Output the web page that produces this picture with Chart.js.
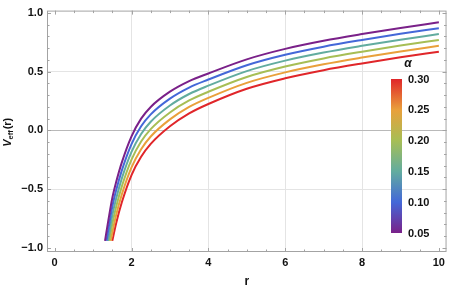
<!DOCTYPE html>
<html><head><meta charset="utf-8">
<script src="https://cdn.jsdelivr.net/npm/chart.js@4/dist/chart.umd.min.js"></script>
<style>html,body{margin:0;padding:0;background:#fff;}canvas{display:block;}</style>
</head><body>
<canvas id="c" width="449" height="289"></canvas>
<script>
// ---- data ----
const alphas = [0.05, 0.10, 0.15, 0.20, 0.25, 0.30];
const lineColors = ['#7A2189', '#4468D8', '#62AC9F', '#A7BE55', '#E9A03B', '#E0262A'];

const r_a005 = [1.31, 1.4, 1.5, 1.6, 1.75, 2.0, 2.25, 2.5, 3, 3.5, 4, 5, 6, 7, 8, 9, 10];
const v_a005 = [-0.94, -0.76, -0.575, -0.44, -0.27, -0.05, 0.10, 0.20, 0.33, 0.42, 0.485, 0.605, 0.694, 0.763, 0.82, 0.872, 0.92];

const r_a010 = [1.35, 1.4, 1.5, 1.6, 1.75, 2.0, 2.25, 2.5, 3, 3.5, 4, 5, 6, 7, 8, 9, 10];
const v_a010 = [-0.94, -0.838, -0.649, -0.51, -0.338, -0.116, 0.035, 0.137, 0.271, 0.365, 0.433, 0.555, 0.644, 0.713, 0.77, 0.822, 0.87];

const r_a015 = [1.387, 1.4, 1.5, 1.6, 1.75, 2.0, 2.25, 2.5, 3, 3.5, 4, 5, 6, 7, 8, 9, 10];
const v_a015 = [-0.94, -0.916, -0.723, -0.58, -0.406, -0.182, -0.03, 0.074, 0.212, 0.31, 0.381, 0.505, 0.594, 0.663, 0.72, 0.772, 0.82];

const r_a020 = [1.42, 1.5, 1.6, 1.75, 2.0, 2.25, 2.5, 3, 3.5, 4, 5, 6, 7, 8, 9, 10];
const v_a020 = [-0.94, -0.797, -0.65, -0.474, -0.248, -0.095, 0.011, 0.153, 0.255, 0.329, 0.455, 0.544, 0.613, 0.67, 0.722, 0.77];

const r_a025 = [1.46, 1.5, 1.6, 1.75, 2.0, 2.25, 2.5, 3, 3.5, 4, 5, 6, 7, 8, 9, 10];
const v_a025 = [-0.94, -0.871, -0.72, -0.542, -0.314, -0.16, -0.052, 0.094, 0.2, 0.277, 0.405, 0.494, 0.563, 0.62, 0.672, 0.72];

const r_a030 = [1.5, 1.6, 1.75, 2.0, 2.25, 2.5, 3, 3.5, 4, 5, 6, 7, 8, 9, 10];
const v_a030 = [-0.94, -0.79, -0.61, -0.38, -0.225, -0.115, 0.035, 0.145, 0.225, 0.355, 0.444, 0.513, 0.57, 0.622, 0.67];

const seriesR = [r_a005, r_a010, r_a015, r_a020, r_a025, r_a030];
const seriesV = [v_a005, v_a010, v_a015, v_a020, v_a025, v_a030];

const xTickValues = [0, 2, 4, 6, 8, 10];
const yTickValues = [-1, -0.5, 0, 0.5, 1];
const legendTicks = ['0.05', '0.10', '0.15', '0.20', '0.25', '0.30'];
const xTitle = 'r';
const legendTitle = 'α';

// ---- chart ----
const FONT = '"Liberation Sans", Arial, sans-serif';
const datasets = seriesR.map((rs, i) => ({
  label: 'α = ' + alphas[i].toFixed(2),
  data: rs.map((r, j) => ({x: r, y: seriesV[i][j]})),
  showLine: true,
  borderColor: lineColors[i],
  backgroundColor: lineColors[i],
  borderWidth: 2,
  pointRadius: 0,
  cubicInterpolationMode: 'monotone',
  fill: false
}));

function fmtY(v) {
  if (Math.abs(v) < 1e-9) v = 0;
  const s = Number(v).toFixed(1);
  return s.startsWith('-') ? '\u2212' + s.slice(1) : s;
}

const decorPlugin = {
  id: 'decor',
  afterDatasetsDraw(chart) {
    const {ctx, chartArea: a, scales: {x, y}} = chart;
    ctx.save();
    // frame
    ctx.strokeStyle = '#a3a3a3';
    ctx.lineWidth = 1;
    ctx.strokeRect(a.left + 0.5, a.top + 0.5, a.right - a.left - 1, a.bottom - a.top - 1);
    // inward ticks
    ctx.beginPath();
    for (let i = 0; i <= 20; i++) {
      const v = i * 0.5;
      const px = Math.round(x.getPixelForValue(v)) + 0.5;
      const len = (i % 4 === 0) ? 4 : 2.5;
      ctx.moveTo(px, a.bottom); ctx.lineTo(px, a.bottom - len);
      ctx.moveTo(px, a.top); ctx.lineTo(px, a.top + len);
    }
    for (let i = -10; i <= 10; i++) {
      const v = i / 10;
      const py = Math.round(y.getPixelForValue(v)) + 0.5;
      const len = (i % 5 === 0) ? 4 : 2.5;
      ctx.moveTo(a.left, py); ctx.lineTo(a.left + len, py);
      ctx.moveTo(a.right, py); ctx.lineTo(a.right - len, py);
    }
    ctx.stroke();

    // y-axis title V_eff(r)
    ctx.save();
    ctx.translate(8, (a.top + a.bottom) / 2 + 1);
    ctx.rotate(-Math.PI / 2);
    ctx.fillStyle = '#111';
    ctx.textBaseline = 'middle';
    const f1 = 'italic bold 11px ' + FONT, f2 = 'bold 7.5px ' + FONT, f3 = 'bold 11px ' + FONT;
    ctx.font = f1; const w1 = ctx.measureText('V').width;
    ctx.font = f2; const w2 = ctx.measureText('eff').width;
    ctx.font = f3; const w3 = ctx.measureText('(r)').width;
    let sx = -(w1 + w2 + w3 + 1) / 2;
    ctx.font = f1; ctx.fillText('V', sx, 0); sx += w1;
    ctx.font = f2; ctx.fillText('eff', sx, 3); sx += w2 + 1;
    ctx.font = f3; ctx.fillText('(r)', sx, 0);
    ctx.restore();

    // colour bar legend
    const bx = 391, bw = 11, bTop = 79, bBot = 233;
    const g = ctx.createLinearGradient(0, bBot, 0, bTop);
    lineColors.forEach((c, i) => g.addColorStop(i / (lineColors.length - 1), c));
    ctx.fillStyle = g;
    ctx.fillRect(bx, bTop, bw, bBot - bTop);
    ctx.fillStyle = '#111';
    ctx.font = 'bold 11px ' + FONT;
    ctx.textAlign = 'left';
    ctx.textBaseline = 'middle';
    const lo = parseFloat(legendTicks[0]), hi = parseFloat(legendTicks[legendTicks.length - 1]);
    legendTicks.forEach(t => {
      const v = parseFloat(t);
      const py = bBot - (v - lo) / (hi - lo) * (bBot - bTop);
      ctx.fillText(t, bx + bw + 6, py + 0.5);
    });
    ctx.font = 'italic bold 12px ' + FONT;
    ctx.textAlign = 'center';
    ctx.fillText(legendTitle, 408, 63.5);
    ctx.restore();
  }
};

new Chart(document.getElementById('c'), {
  type: 'scatter',
  data: {datasets},
  options: {
    responsive: false,
    animation: false,
    devicePixelRatio: 1,
    layout: {padding: {top: 5, right: 1, left: 0, bottom: 0}},
    plugins: {legend: {display: false}, tooltip: {enabled: false}, title: {display: false}},
    scales: {
      x: {
        type: 'linear', min: -0.2, max: 10.2,
        afterFit: s => { s.height = 37; },
        afterBuildTicks: s => { s.ticks = xTickValues.map(v => ({value: v})); },
        ticks: {includeBounds: false, stepSize: 2, padding: 4, color: '#111',
          font: {family: FONT, size: 11, weight: 'bold'}, maxRotation: 0,
          callback: v => String(v)},
        grid: {drawTicks: false, lineWidth: 1,
          color: c => (c.tick && c.tick.value > 0 && c.tick.value < 10) ? '#e4e4e4' : 'rgba(0,0,0,0)'},
        border: {display: false},
        title: {display: true, text: xTitle, color: '#111', padding: {top: 0, bottom: 0},
          font: {family: FONT, size: 12, weight: 'bold'}}
      },
      y: {
        type: 'linear', min: -1.035, max: 1.02,
        afterFit: s => { s.width = 47; },
        afterBuildTicks: s => { s.ticks = yTickValues.map(v => ({value: v})); },
        ticks: {includeBounds: false, stepSize: 0.5, padding: 4, color: '#111',
          font: {family: FONT, size: 11, weight: 'bold'}, callback: v => fmtY(v)},
        grid: {drawTicks: false, lineWidth: 1,
          color: c => {
            if (!c.tick) return 'rgba(0,0,0,0)';
            const v = c.tick.value;
            if (Math.abs(v) < 1e-9) return '#b9b9b9';
            if (Math.abs(Math.abs(v) - 0.5) < 1e-9) return '#e4e4e4';
            return 'rgba(0,0,0,0)';
          }},
        border: {display: false}
      }
    }
  },
  plugins: [decorPlugin]
});
</script>
</body></html>
